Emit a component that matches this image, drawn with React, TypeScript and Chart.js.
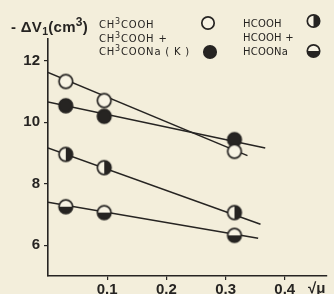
import React, { useEffect, useRef } from "react";
import { Chart, registerables } from "chart.js";

Chart.register(...registerables);

// ---- data ----
const xValues = [0.03, 0.095, 0.315];
const ch3coohY = [11.32, 10.7, 9.05];
const ch3coonaY = [10.53, 10.19, 9.43];
const hcoohY = [8.95, 8.52, 7.06];
const hcoonaY = [7.25, 7.06, 6.32];

const ch3coohFitX = [0, 0.337];
const ch3coohFitY = [11.61, 8.91];
const ch3coonaFitX = [0, 0.367];
const ch3coonaFitY = [10.65, 9.16];
const hcoohFitX = [0, 0.359];
const hcoohFitY = [9.16, 6.68];
const hcoonaFitX = [0, 0.355];
const hcoonaFitY = [7.4, 6.23];

const yTicks = [6, 8, 10, 12];
const xTicks = [0.1, 0.2, 0.3, 0.4];
const xTickLabels = ["0.1", "0.2", "0.3", "0.4"];

// "^" marks a superscript character, "_" a subscript character
const legendLeft = ["CH^3COOH", "CH^3COOH +", "CH^3COONa ( K )"];
const legendRight = ["HCOOH", "HCOOH +", "HCOONa"];
const yTitle = "- ΔV_1(cm^3)";
const xTitle = "√μ";

const INK = "#262422";
const PAPER = "#f3eedb";
const OPEN_FILL = "#f7f3e4";
const FONT = "'Liberation Sans', 'DejaVu Sans', sans-serif";
const LFONT = "'DejaVu Sans', 'Liberation Sans', sans-serif";

type Kind = "open" | "filled" | "halfRight" | "halfBottom";

function drawMarker(ctx: CanvasRenderingContext2D, kind: Kind, cx: number, cy: number, r: number) {
  ctx.save();
  ctx.beginPath();
  ctx.arc(cx, cy, r, 0, Math.PI * 2);
  ctx.fillStyle = kind === "filled" ? INK : OPEN_FILL;
  ctx.fill();
  if (kind === "halfRight") {
    ctx.beginPath();
    ctx.arc(cx, cy, r, -Math.PI / 2, Math.PI / 2);
    ctx.closePath();
    ctx.fillStyle = INK;
    ctx.fill();
  } else if (kind === "halfBottom") {
    ctx.beginPath();
    ctx.arc(cx, cy, r, 0, Math.PI);
    ctx.closePath();
    ctx.fillStyle = INK;
    ctx.fill();
  }
  ctx.beginPath();
  ctx.arc(cx, cy, r, 0, Math.PI * 2);
  ctx.lineWidth = 1.7;
  ctx.strokeStyle = INK;
  ctx.stroke();
  ctx.restore();
}

function makeMarker(kind: Kind, r: number): HTMLCanvasElement {
  const size = Math.ceil(2 * r + 4);
  const c = document.createElement("canvas");
  c.width = size;
  c.height = size;
  const ctx = c.getContext("2d")!;
  drawMarker(ctx, kind, size / 2, size / 2, r);
  return c;
}

function drawRich(
  ctx: CanvasRenderingContext2D,
  text: string,
  x: number,
  y: number,
  size: number,
  family: string,
  weight: string,
  spacing: number
) {
  let cx = x;
  ctx.save();
  ctx.textBaseline = "alphabetic";
  ctx.textAlign = "left";
  for (let i = 0; i < text.length; i++) {
    let ch = text[i];
    let s = size;
    let dy = 0;
    if (ch === "^" && i + 1 < text.length) {
      ch = text[++i];
      s = size * 0.8;
      dy = -size * 0.42;
    } else if (ch === "_" && i + 1 < text.length) {
      ch = text[++i];
      s = size * 0.7;
      dy = size * 0.22;
    }
    ctx.font = `${weight} ${s}px ${family}`;
    ctx.fillText(ch, cx, y + dy);
    cx += ctx.measureText(ch).width + spacing;
  }
  ctx.restore();
}

const pts = (xs: number[], ys: number[]) => xs.map((x, i) => ({ x, y: ys[i] }));

export default function App() {
  const ref = useRef<HTMLCanvasElement | null>(null);

  useEffect(() => {
    document.body.style.margin = "0";
    document.body.style.background = PAPER;
    const canvas = ref.current!;
    const R = 6.8;

    const lineDs = (label: string, xs: number[], ys: number[]) => ({
      label,
      data: pts(xs, ys),
      showLine: true,
      borderColor: INK,
      borderWidth: 1.5,
      pointRadius: 0,
      fill: false,
      order: 2,
    });
    const pointDs = (label: string, ys: number[], kind: Kind) => ({
      label,
      data: pts(xValues, ys),
      showLine: false,
      pointStyle: makeMarker(kind, R),
      pointRadius: R,
      order: 1,
    });

    const bgPlugin = {
      id: "bg",
      beforeDraw(chart: any) {
        const c = chart.ctx;
        c.save();
        c.fillStyle = PAPER;
        c.fillRect(0, 0, chart.width, chart.height);
        c.restore();
      },
    };

    const legendPlugin = {
      id: "legendText",
      afterDraw(chart: any) {
        const c: CanvasRenderingContext2D = chart.ctx;
        c.save();
        c.fillStyle = INK;
        drawRich(c, yTitle, 11, 32, 15, FONT, "bold", 0.3);
        const ly = [28, 42, 55];
        legendLeft.forEach((t, i) => drawRich(c, t, 99, ly[i], 10, LFONT, "normal", 0.8));
        const ry = [27, 41, 55];
        legendRight.forEach((t, i) => drawRich(c, t, 243, ry[i], 10, LFONT, "normal", 0.2));
        const LR = 6.2;
        drawMarker(c, "open", 208, 23, LR);
        drawMarker(c, "filled", 210, 52, LR);
        drawMarker(c, "halfRight", 313.5, 21, LR);
        drawMarker(c, "halfBottom", 313.5, 51, LR);
        c.textBaseline = "alphabetic";
        c.font = `bold 15px ${FONT}`;
        c.fillText(xTitle, 308, 293);
        c.restore();
      },
    };

    const chart = new Chart(canvas, {
      type: "scatter",
      data: {
        datasets: [
          lineDs("fit CH3COOH", ch3coohFitX, ch3coohFitY),
          lineDs("fit CH3COONa", ch3coonaFitX, ch3coonaFitY),
          lineDs("fit HCOOH", hcoohFitX, hcoohFitY),
          lineDs("fit HCOONa", hcoonaFitX, hcoonaFitY),
          pointDs("CH3COOH", ch3coohY, "open"),
          pointDs("CH3COOH + CH3COONa (K)", ch3coonaY, "filled"),
          pointDs("HCOOH", hcoohY, "halfRight"),
          pointDs("HCOOH + HCOONa", hcoonaY, "halfBottom"),
        ] as any,
      },
      options: {
        responsive: false,
        animation: false,
        layout: { padding: { top: 39, right: 1, left: 0, bottom: 0 } },
        plugins: {
          legend: { display: false },
          tooltip: { enabled: false },
          title: { display: false },
        },
        scales: {
          x: {
            type: "linear",
            min: 0,
            max: 0.47,
            afterBuildTicks: (s: any) => {
              s.ticks = xTicks.map((v) => ({ value: v }));
            },
            afterFit: (s: any) => {
              s.height = 18;
            },
            ticks: {
              color: INK,
              font: { size: 15, family: FONT, weight: "bold" },
              padding: 1,
              maxRotation: 0,
              callback: (v: any) => xTickLabels[xTicks.indexOf(v)] ?? "",
            },
            grid: { drawOnChartArea: false, drawTicks: true, tickLength: 4, color: INK, lineWidth: 1.2 },
            border: { color: INK, width: 1.6 },
          },
          y: {
            type: "linear",
            min: 5,
            max: 12.7,
            afterBuildTicks: (s: any) => {
              s.ticks = yTicks.map((v) => ({ value: v }));
            },
            afterFit: (s: any) => {
              s.width = 48;
            },
            ticks: {
              color: INK,
              font: { size: 15, family: FONT, weight: "bold" },
              padding: 4,
              callback: (v: any) => String(v),
            },
            grid: { drawOnChartArea: false, drawTicks: true, tickLength: 4, color: INK, lineWidth: 1.2 },
            border: { color: INK, width: 1.6 },
          },
        },
      },
      plugins: [bgPlugin, legendPlugin],
    });
    return () => chart.destroy();
  }, []);

  return (
    <div style={{ position: "fixed", left: 0, top: 0, width: 334, height: 294, background: PAPER }}>
      <canvas ref={ref} width={334} height={294} style={{ display: "block" }} />
    </div>
  );
}
